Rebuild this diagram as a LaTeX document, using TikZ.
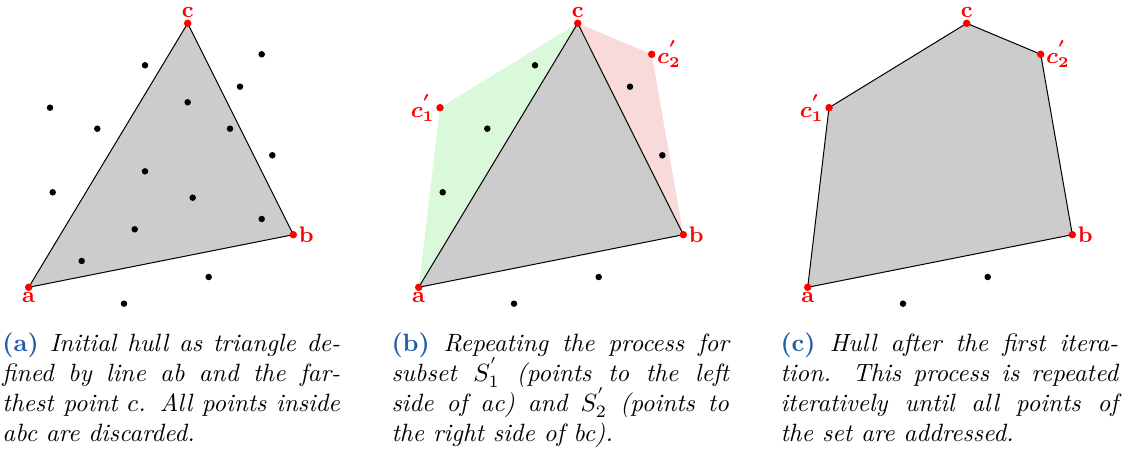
\documentclass[tikz,border=0pt]{standalone}
\usepackage{amsmath,amssymb}
\usepackage{tikz}
\usepackage{xcolor}
\definecolor{hullgray}{gray}{0.8}
\definecolor{leftgreen}{RGB}{218,248,218}
\definecolor{rightpink}{RGB}{248,218,218}
\definecolor{capblue}{RGB}{33,94,168}
\tikzset{
  setpt/.style={fill=black},
  hullpt/.style={fill=red},
  ptlabel/.style={text=red,font=\small\bfseries,inner sep=2pt},
  subcap/.style={anchor=north west,inner sep=0pt,text width=135pt,align=justify,font=\itshape}
}
\newcommand{\sublabel}[1]{{\upshape\bfseries\color{capblue}(#1)}}

\begin{document}
\begin{tikzpicture}[x=0.4pt,y=-0.4pt,line cap=round]
\useasboundingbox (0,0) rectangle (1131,458);
% (a) initial triangle
\begin{scope}
\coordinate (a) at (28.7,287.3);
\coordinate (b) at (293.3,234.7);
\coordinate (c) at (187.7,23.3);
\fill[hullgray] (a) -- (b) -- (c) -- cycle;
\draw (a) -- (b) -- (c) -- cycle;
\fill[setpt] (261.7,54.3) circle (1.3pt);
\fill[setpt] (145,65.3) circle (1.3pt);
\fill[setpt] (240,86.7) circle (1.3pt);
\fill[setpt] (50,107.7) circle (1.3pt);
\fill[setpt] (187.7,102.3) circle (1.3pt);
\fill[setpt] (97.3,128.7) circle (1.3pt);
\fill[setpt] (230,128.7) circle (1.3pt);
\fill[setpt] (272.3,155.3) circle (1.3pt);
\fill[setpt] (145,171.3) circle (1.3pt);
\fill[setpt] (52.7,192.3) circle (1.3pt);
\fill[setpt] (192.7,197.7) circle (1.3pt);
\fill[setpt] (261.7,219) circle (1.3pt);
\fill[setpt] (134.7,229.3) circle (1.3pt);
\fill[setpt] (81.7,261) circle (1.3pt);
\fill[setpt] (208.7,277) circle (1.3pt);
\fill[setpt] (124,303.7) circle (1.3pt);
\fill[hullpt] (a) circle (1.5pt);
\fill[hullpt] (b) circle (1.5pt);
\fill[hullpt] (c) circle (1.5pt);
\node[ptlabel,below] (la) at (a) {a};
\node[ptlabel,right] (lb) at (b) {b};
\node[ptlabel,above] (lc) at (c) {c};
\end{scope}
% (b) the two subsets
\begin{scope}[xshift=156pt]
\coordinate (a2) at (28.7,287.3);
\coordinate (b2) at (293.3,234.7);
\coordinate (c2) at (187.7,23.3);
\coordinate (d2) at (50,107.7);
\coordinate (e2) at (261.7,54.3);
\fill[leftgreen] (a2) -- (d2) -- (c2) -- cycle;
\fill[rightpink] (c2) -- (e2) -- (b2) -- cycle;
\fill[hullgray] (a2) -- (b2) -- (c2) -- cycle;
\draw (a2) -- (b2) -- (c2) -- cycle;
\fill[setpt] (145,65.3) circle (1.3pt);
\fill[setpt] (97.3,128.7) circle (1.3pt);
\fill[setpt] (52.7,192.3) circle (1.3pt);
\fill[setpt] (240,86.7) circle (1.3pt);
\fill[setpt] (272.3,155.3) circle (1.3pt);
\fill[setpt] (208.7,277) circle (1.3pt);
\fill[setpt] (124,303.7) circle (1.3pt);
\fill[hullpt] (a2) circle (1.5pt);
\fill[hullpt] (b2) circle (1.5pt);
\fill[hullpt] (c2) circle (1.5pt);
\fill[hullpt] (d2) circle (1.5pt);
\fill[hullpt] (e2) circle (1.5pt);
\node[ptlabel,below] (la2) at (a2) {a};
\node[ptlabel,right] (lb2) at (b2) {b};
\node[ptlabel,above] (lc2) at (c2) {c};
\node[ptlabel,left] (ld2) at (d2) {$\boldsymbol{c^{'}_1}$};
\node[ptlabel,right] (le2) at (e2) {$\boldsymbol{c^{'}_2}$};
\end{scope}
% (c) hull after one pass
\begin{scope}[xshift=311.6pt]
\coordinate (a3) at (28.7,287.3);
\coordinate (b3) at (293.3,234.7);
\coordinate (c3) at (187.7,23.3);
\coordinate (d3) at (50,107.7);
\coordinate (e3) at (261.7,54.3);
\fill[hullgray] (a3) -- (b3) -- (e3) -- (c3) -- (d3) -- cycle;
\draw (a3) -- (b3) -- (e3) -- (c3) -- (d3) -- cycle;
\fill[setpt] (208.7,277) circle (1.3pt);
\fill[setpt] (124,303.7) circle (1.3pt);
\fill[hullpt] (a3) circle (1.5pt);
\fill[hullpt] (b3) circle (1.5pt);
\fill[hullpt] (c3) circle (1.5pt);
\fill[hullpt] (d3) circle (1.5pt);
\fill[hullpt] (e3) circle (1.5pt);
\node[ptlabel,below] (la3) at (a3) {a};
\node[ptlabel,right] (lb3) at (b3) {b};
\node[ptlabel,above] (lc3) at (c3) {c};
\node[ptlabel,left] (ld3) at (d3) {$\boldsymbol{c^{'}_1}$};
\node[ptlabel,right] (le3) at (e3) {$\boldsymbol{c^{'}_2}$};
\end{scope}
% captions
\node[subcap] (capa) at (2,332) {\sublabel{a} Initial hull as triangle de-\linebreak fined by line ab and the far-\linebreak thest point $c$. All points inside\linebreak abc are discarded.};
\node[subcap] (capb) at (391,332) {\sublabel{b} Repeating the process for\linebreak subset $S^{'}_1$ (points to the left\linebreak side of ac) and $S^{'}_2$ (points to\linebreak the right side of bc).};
\node[subcap] (capc) at (780,332) {\sublabel{c} Hull after the first itera-\linebreak tion. This process is repeated\linebreak iteratively until all points of\linebreak the set are addressed.};
\end{tikzpicture}
\end{document}
